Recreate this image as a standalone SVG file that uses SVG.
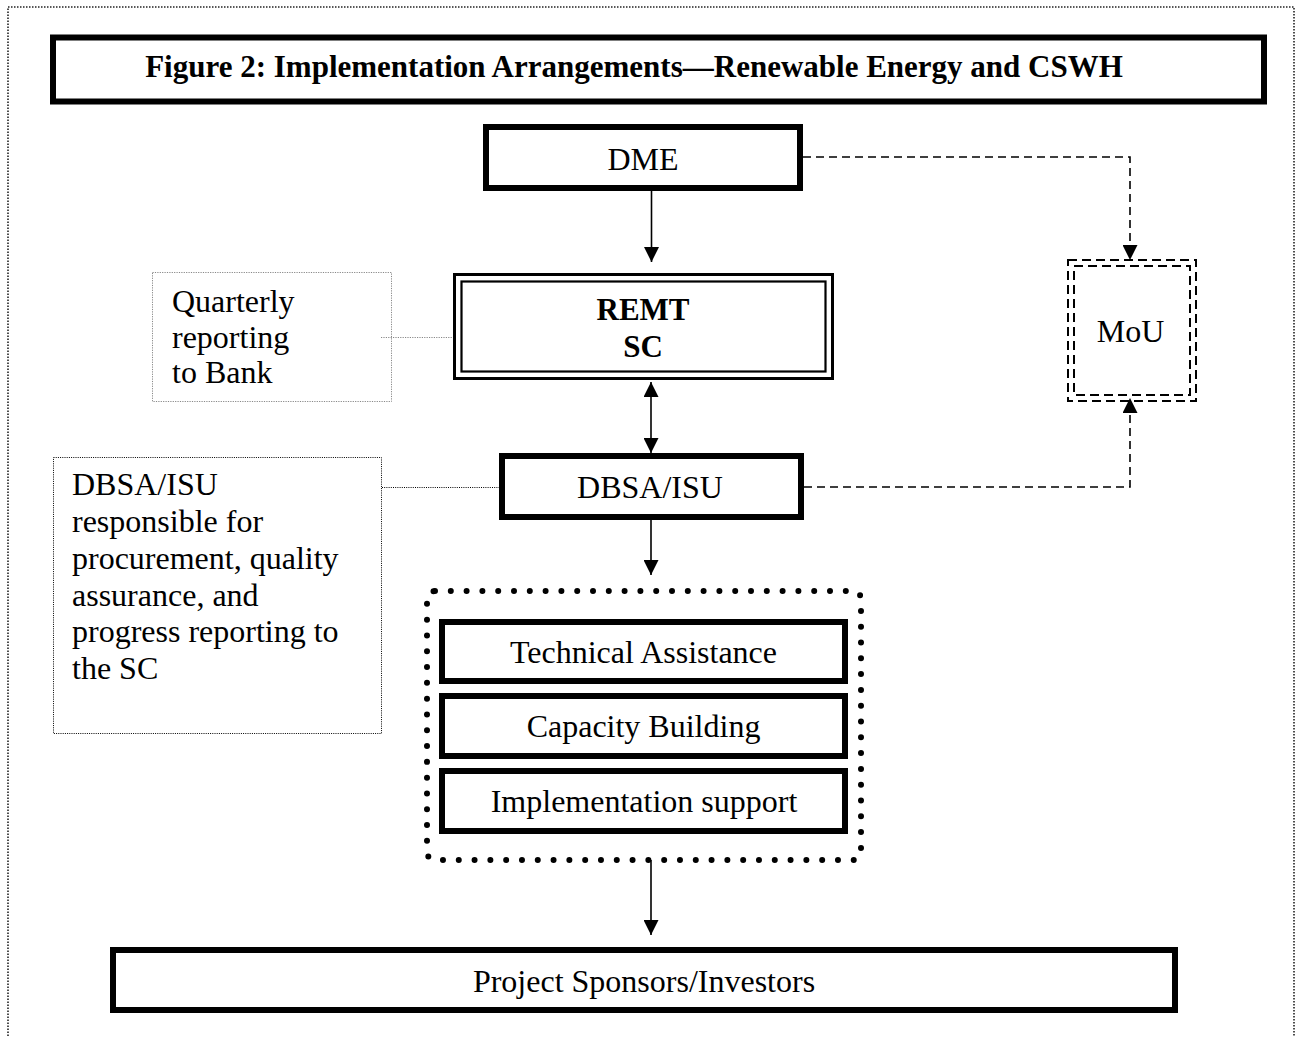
<svg xmlns="http://www.w3.org/2000/svg" width="1297" height="1037" viewBox="0 0 1297 1037">
<style>
  .t{font-family:"Liberation Serif","Times New Roman",serif;font-size:32px;fill:#000}
  .b{font-weight:bold;font-size:31px}
  .c{text-anchor:middle}
  .thick{fill:#fff;stroke:#000;stroke-width:6}
  .arrow{fill:none;stroke:#000;stroke-width:1.6}
  .dash{fill:none;stroke:#000;stroke-width:1.6;stroke-dasharray:8 5}
</style>
<defs>
  <marker id="ah" viewBox="0 0 15 15" refX="15" refY="7.5" markerWidth="15" markerHeight="15" markerUnits="userSpaceOnUse" orient="auto-start-reverse">
    <path d="M0,0 L15,7.5 L0,15 z" fill="#000" stroke="none"/>
  </marker>
</defs>
<rect width="1297" height="1037" fill="#fff"/>
<path d="M8,1045 V7 H1294 V1045" fill="none" stroke="#222" stroke-width="1.6" stroke-dasharray="1.5 1.5"/>

<g id="title">
  <rect class="thick" x="53" y="37.5" width="1211" height="64"/>
  <text class="t b c" x="634" y="77">Figure 2: Implementation Arrangements—Renewable Energy and CSWH</text>
</g>

<g id="dme">
  <rect class="thick" x="486" y="127" width="314" height="61"/>
  <text class="t c" x="643" y="170">DME</text>
</g>

<g id="remt">
  <rect x="454.5" y="274.5" width="378" height="104" fill="#fff" stroke="#000" stroke-width="3"/>
  <rect x="461.5" y="281.5" width="364" height="90" fill="none" stroke="#000" stroke-width="2.2"/>
  <text class="t b c" x="643" y="320">REMT</text>
  <text class="t b c" x="643" y="357">SC</text>
</g>

<g id="quarterly">
  <rect x="152.5" y="272.5" width="239" height="129" fill="#fff" stroke="#888" stroke-width="1" stroke-dasharray="1.2 1.2"/>
  <text class="t" x="172" y="312">Quarterly</text>
  <text class="t" x="172" y="348">reporting</text>
  <text class="t" x="172" y="383">to Bank</text>
</g>

<g id="mou">
  <rect x="1068" y="260" width="128" height="141" fill="#fff" stroke="#000" stroke-width="2" stroke-dasharray="9 5"/>
  <rect x="1074" y="266" width="116" height="129" fill="none" stroke="#000" stroke-width="2" stroke-dasharray="9 5"/>
  <text class="t c" x="1130.5" y="342">MoU</text>
</g>

<g id="dbsa">
  <rect class="thick" x="502" y="456" width="299" height="61"/>
  <text class="t c" x="650" y="498">DBSA/ISU</text>
</g>

<g id="dbsa-note">
  <rect x="53.5" y="457.5" width="328" height="276" fill="#fff" stroke="#000" stroke-width="1" stroke-dasharray="1 1.2"/>
  <text class="t" x="72" y="495">DBSA/ISU</text>
  <text class="t" x="72" y="532">responsible for</text>
  <text class="t" x="72" y="569">procurement, quality</text>
  <text class="t" x="72" y="606">assurance, and</text>
  <text class="t" x="72" y="642">progress reporting to</text>
  <text class="t" x="72" y="679">the SC</text>
</g>

<g id="support-group">
  <rect x="427" y="591" width="434" height="269" rx="8" ry="8" fill="#fff" stroke="#000" stroke-width="6" stroke-linecap="round" stroke-dasharray="0 15.8"/>
</g>

<g id="technical-assistance">
  <rect class="thick" x="442" y="622" width="403" height="59"/>
  <text class="t c" x="643.5" y="663">Technical Assistance</text>
</g>

<g id="capacity-building">
  <rect class="thick" x="442" y="696" width="403" height="60"/>
  <text class="t c" x="643.5" y="737">Capacity Building</text>
</g>

<g id="implementation-support">
  <rect class="thick" x="442" y="771" width="403" height="60"/>
  <text class="t c" x="644" y="812">Implementation support</text>
</g>

<g id="sponsors">
  <rect class="thick" x="113" y="950" width="1062" height="60"/>
  <text class="t c" x="644" y="992">Project Sponsors/Investors</text>
</g>

<g id="connectors">
  <path class="arrow" d="M651.5,191 V262" marker-end="url(#ah)"/>
  <path class="arrow" d="M651,382 V453" marker-start="url(#ah)" marker-end="url(#ah)"/>
  <path class="arrow" d="M651,520 V575" marker-end="url(#ah)"/>
  <path class="arrow" d="M651,860 V935" marker-end="url(#ah)"/>
  <path class="dash" d="M803,157 H1130 V260" marker-end="url(#ah)"/>
  <path class="dash" d="M804,487 H1130 V398" marker-end="url(#ah)"/>
  <path d="M381,337.5 H453" fill="none" stroke="#888" stroke-width="1" stroke-dasharray="1.2 1.2"/>
  <path d="M382,487.5 H499" fill="none" stroke="#000" stroke-width="1" stroke-dasharray="1 1.2"/>
</g>
</svg>
